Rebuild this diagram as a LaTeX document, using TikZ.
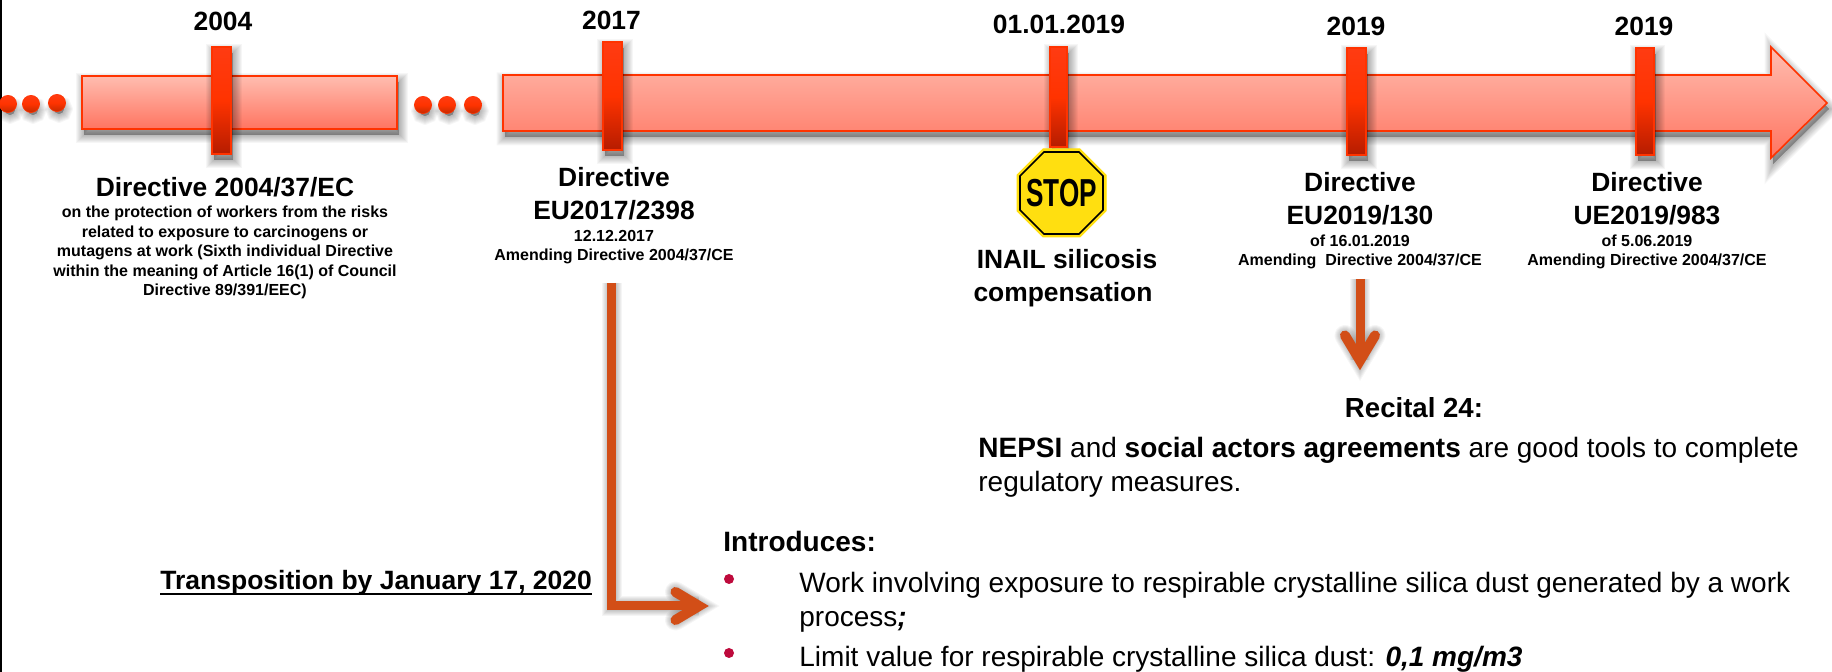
\documentclass[tikz,border=0pt]{standalone}
\usepackage{fontspec}
\usepackage{graphicx}
\setmainfont{Liberation Sans}
\usetikzlibrary{calc}
\definecolor{edge}{HTML}{FF3300}
\definecolor{arrowc}{HTML}{D24E17}
\definecolor{bul}{HTML}{BE0A3C}
\definecolor{stopy}{HTML}{FFDF10}
\newcommand{\fillshadow}[1]{\foreach \w in {1,3,...,17}{\path[fill=black,draw=black,fill opacity=.035,draw opacity=.035,line width=\w*0.5pt,shift={(2,6)}] #1;}}
\newcommand{\strokeshadow}[3]{\foreach \w in {1,3,...,11}{\draw[black,opacity=.04,line width={(#1+\w)*0.5pt},shift={(3,6)},#2] #3;}}
\newcommand{\ulined}[1]{\setbox0\hbox{#1}\rlap{\rule[-2.5pt]{\wd0}{1pt}}\box0}
\tikzset{
  x=0.5pt,y=-0.5pt,
  band/.style={draw=edge,line width=0.8pt,top color=bandtop,bottom color=bandbot,shading angle=0},
  tick/.style={draw=edge,line width=0.6pt,top color=ticktop,bottom color=tickbot,middle color=edge},
  dotmark/.style={circle,minimum size=8.6pt,inner sep=0pt,draw=edge,line width=0.3pt,top color=ticktop,bottom color=dotbot,middle color=edge},
  head/.style={font=\fontsize{13.2}{16.5}\selectfont\bfseries,anchor=base,align=center,inner sep=0pt},
  sub/.style={font=\fontsize{8}{9.75}\selectfont\bfseries,anchor=base,align=center,inner sep=0pt},
  body/.style={font=\fontsize{14}{17.25}\selectfont,anchor=base west,align=left,inner sep=0pt},
  bulletmark/.style={circle,fill=bul,minimum size=5pt,inner sep=0pt},
  flow/.style={draw=arrowc,line width=4.5pt},
  tipline/.style={draw=arrowc,line width=5pt,line cap=round,miter limit=10},
}
\definecolor{bandtop}{HTML}{FFBDB0}
\definecolor{bandbot}{HTML}{FF7460}
\definecolor{ticktop}{HTML}{FF3B12}
\definecolor{tickbot}{HTML}{B51C00}
\definecolor{dotbot}{HTML}{C42A00}
\begin{document}
\begin{tikzpicture}
\useasboundingbox (0,0) rectangle (1832,672);
\fill[white] (0,0) rectangle (1832,672);
\draw[black,line width=0.8pt] (0.8,0) -- (0.8,672);

% bands
\fillshadow{(82,76) rectangle (397,129)}
\path[band] (82,76) rectangle (397,129);
\fillshadow{(503,75) -- (1771,75) -- (1771,47) -- (1827,103) -- (1771,158) -- (1771,131) -- (503,131) -- cycle}
\path[band] (503,75) -- (1771,75) -- (1771,47) -- (1827,103) -- (1771,158) -- (1771,131) -- (503,131) -- cycle;

% dots
\foreach \n/\px/\py in {a/8/104,b/31/104,c/57/103,d/423/105,e/447/105,f/473/105}{
  \fillshadow{(\px,\py) circle (5)}
  \node[dotmark] (dot\n) at (\px,\py) {};
}

% ticks
\foreach \n/\xa/\ya/\xb/\yb in {t1/212/47/231/154,t2/603/42/622/150,t3/1050/47/1067/147,t4/1347/48/1366/155,t5/1636/48/1654/155}{
  \fillshadow{(\xa,\ya) rectangle (\xb,\yb)}
  \path[tick] (\xa,\ya) rectangle (\xb,\yb);
}

% years
\node[head] (y1) at (223,31) {2004};
\node[head] (y2) at (611.5,30) {2017};
\node[head] (y3) at (1059,34) {01.01.2019};
\node[head] (y4) at (1356,36) {2019};
\node[head] (y5) at (1644,36) {2019};

% directive texts
\node[head] (d1) at (225,197) {Directive 2004/37/EC};
\node[sub] (s1) at (225,296) {on the protection of workers from the risks\\related to exposure to carcinogens or\\mutagens at work (Sixth individual Directive\\within the meaning of Article 16(1) of Council\\Directive 89/391/EEC)};
\node[head] (d2) at (614,220) {Directive\\EU2017/2398};
\node[sub] (s2) at (614,261) {12.12.2017\\Amending Directive 2004/37/CE};
\node[head] (d4) at (1360,225) {Directive\\EU2019/130};
\node[sub] (s4) at (1360,266) {of 16.01.2019\\Amending~ Directive 2004/37/CE};
\node[head] (d5) at (1647,225) {Directive\\UE2019/983};
\node[sub] (s5) at (1647,266) {of 5.06.2019\\Amending Directive 2004/37/CE};

% stop sign
\path[fill=stopy,draw=stopy,line width=0.5pt] (1043,149) -- (1080,149) -- (1106,175) -- (1106,211) -- (1080,237) -- (1043,237) -- (1017,211) -- (1017,175) -- cycle;
\draw[black,line width=0.8pt] (1044,152) -- (1079,152) -- (1103,176) -- (1103,210) -- (1079,234) -- (1044,234) -- (1020,210) -- (1020,176) -- cycle;
\node[anchor=base,inner sep=0pt,font=\fontsize{19.5}{20}\selectfont\bfseries] (stopword) at (1061.5,207) {\scalebox{.67}[1]{STOP}};
\node[head] (inail) at (1063,302) {\hspace*{4pt}INAIL silicosis\\compensation};

% recital
\node[head,font=\fontsize{13.8}{16.5}\selectfont\bfseries] (rec) at (1414,418) {Recital 24:};
\node[body] (neps) at (978,492) {\textbf{NEPSI} and \textbf{social actors agreements} are good tools to complete\\regulatory measures.};

% transposition
\node[anchor=base west,inner sep=0pt,font=\fontsize{13.25}{16}\selectfont\bfseries] (trans) at (160,590) {\ulined{Transposition by January 17, 2020}};

% introduces
\node[anchor=base west,inner sep=0pt,font=\fontsize{14}{16}\selectfont\bfseries] (intro) at (723,552) {Introduces:};
\node[bulletmark] (b1) at (729,579) {};
\node[bulletmark] (b2) at (729,653) {};
\node[body] (w1) at (799,627) {Work involving exposure to respirable crystalline silica dust generated by a work\\process\textbf{\textit{;}}};
\node[body] (w2) at (799,667) {Limit value for respirable crystalline silica dust: \textbf{\textit{0,1 mg/m3}}};

% connectors
\coordinate (ls) at (611.5,283);
\coordinate (lc) at (611.5,606);
\coordinate (la) at (699,606);
\coordinate (lw1) at (675.5,592);
\coordinate (lw2) at (675.5,620);
\coordinate (ds) at (1360,279);
\coordinate (da) at (1360,360.5);
\coordinate (dw1) at (1345,335.5);
\coordinate (dw2) at (1375,335.5);

\strokeshadow{9}{line join=miter}{(ls) -- (lc) -- (la)}
\strokeshadow{10}{line cap=round}{(lw1) -- (la) -- (lw2)}
\strokeshadow{9}{}{(ds) -- (da)}
\strokeshadow{10}{line cap=round}{(dw1) -- (da) -- (dw2)}
\draw[flow] (ls) -- (lc) -- (la);
\draw[tipline] (lw1) -- (la) -- (lw2);
\draw[flow] (ds) -- (da);
\draw[tipline] (dw1) -- (da) -- (dw2);
\end{tikzpicture}
\end{document}
